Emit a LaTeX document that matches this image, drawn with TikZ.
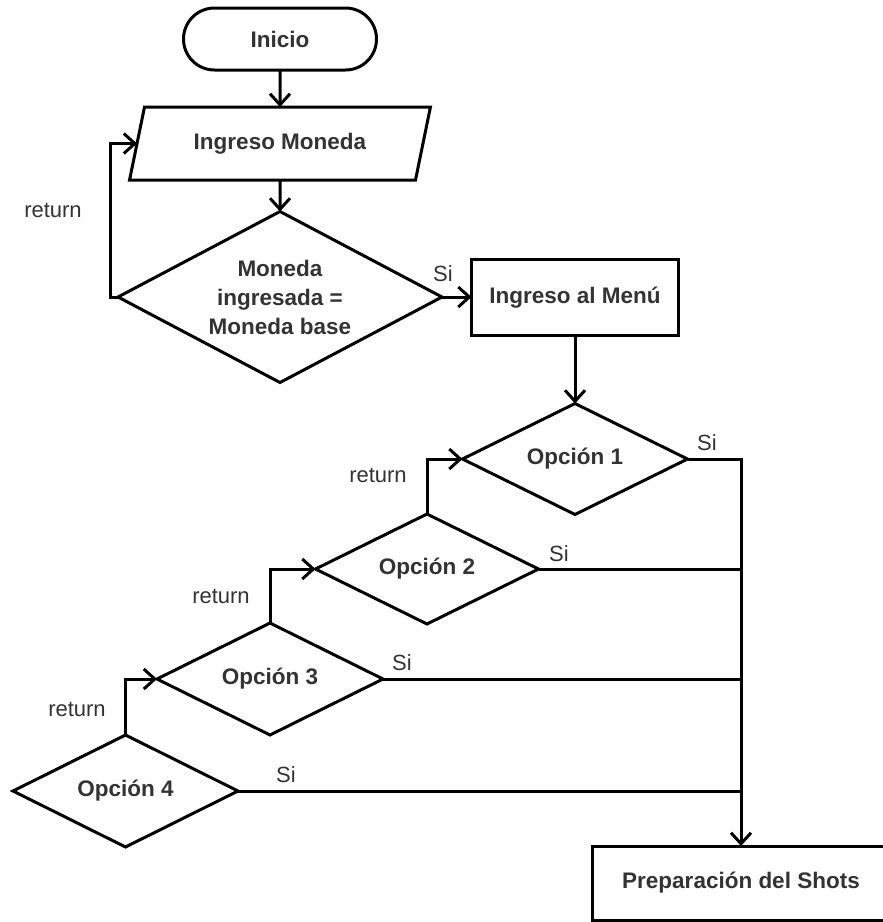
\documentclass[tikz,border=0pt]{standalone}
\usepackage{fontspec}
\setmainfont{Liberation Sans}
\usetikzlibrary{shapes.geometric,shapes.misc,arrows.meta}
\definecolor{txt}{RGB}{51,51,51}
\begin{document}
\begin{tikzpicture}[x=1pt,y=-1pt,
  every node/.style={text=txt},
  flow/.style={line width=3pt, draw=black, inner sep=0pt, outer sep=0pt},
  nodefont/.style={font=\fontsize{22.5}{29}\selectfont\bfseries},
  lbl/.style={font=\fontsize{22}{26}\selectfont, inner sep=0pt},
  dec/.style={flow, diamond, nodefont, aspect=2, align=center},
  conn/.style={line width=3pt, line join=miter, -{Straight Barb[length=11pt,width=20pt]}},
  wire/.style={line width=3pt, line join=miter}
]
\useasboundingbox (0,0) rectangle (883,922);

% nodes
\node[flow, rounded rectangle, minimum width=193, minimum height=62, nodefont] (inicio) at (280,39) {Inicio};
\node[flow, trapezium, trapezium left angle=65.7, trapezium right angle=114.3, trapezium stretches=true, minimum width=301, minimum height=73, nodefont] (ing) at (280,143.5) {Ingreso Moneda};
\node[dec, minimum width=324, minimum height=171] (mon) at (280,297) {Moneda\\ingresada =\\Moneda base};
\node[flow, rectangle, minimum width=207, minimum height=76, nodefont] (menu) at (575,297.5) {Ingreso al Menú};
\node[dec, minimum width=225, minimum height=111] (o1) at (575,459) {Opción 1};
\node[dec, minimum width=223, minimum height=110] (o2) at (427,569) {Opción 2};
\node[dec, minimum width=226, minimum height=112] (o3) at (270,679) {Opción 3};
\node[dec, minimum width=225, minimum height=112] (o4) at (125.5,791) {Opción 4};
\node[rectangle, inner sep=0pt, outer sep=0pt, minimum width=298, minimum height=74, nodefont] (prep) at (741,883) {Preparación del Shots};
% the box runs past the right edge of the picture
\coordinate (pne) at (884,846);
\coordinate (pse) at (884,920);
\draw[wire] (pne) -- (prep.north west) -- (prep.south west) -- (pse);

\coordinate (r0) at (110,297);

% connectors
\draw[conn] (inicio) -- (ing);
\draw[conn] (ing) -- (mon);
\draw[conn] (mon.east) -- (mon.east -| menu.west);
\draw[conn] (mon.west) -- (r0) |- (ing.west);
\draw[conn] (menu) -- (o1);
\draw[conn] (o1.east) -| (prep.north);
\draw[wire] (o2.east) -- (o2.east -| prep.north);
\draw[wire] (o3.east) -- (o3.east -| prep.north);
\draw[wire] (o4.east) -- (o4.east -| prep.north);
\draw[conn] (o2.north) |- (o1.west);
\draw[conn] (o3.north) |- (o2.west);
\draw[conn] (o4.north) |- (o3.west);

% labels
\node[lbl] (ret0) at (53,210) {return};
\node[lbl] (ret1) at (378,475) {return};
\node[lbl] (ret2) at (221,596) {return};
\node[lbl] (ret3) at (77,709) {return};
\node[lbl] (si0) at (443,274) {Si};
\node[lbl] (si1) at (707,443) {Si};
\node[lbl] (si2) at (559,554) {Si};
\node[lbl] (si3) at (402,663) {Si};
\node[lbl] (si4) at (286,775) {Si};
\end{tikzpicture}
\end{document}
